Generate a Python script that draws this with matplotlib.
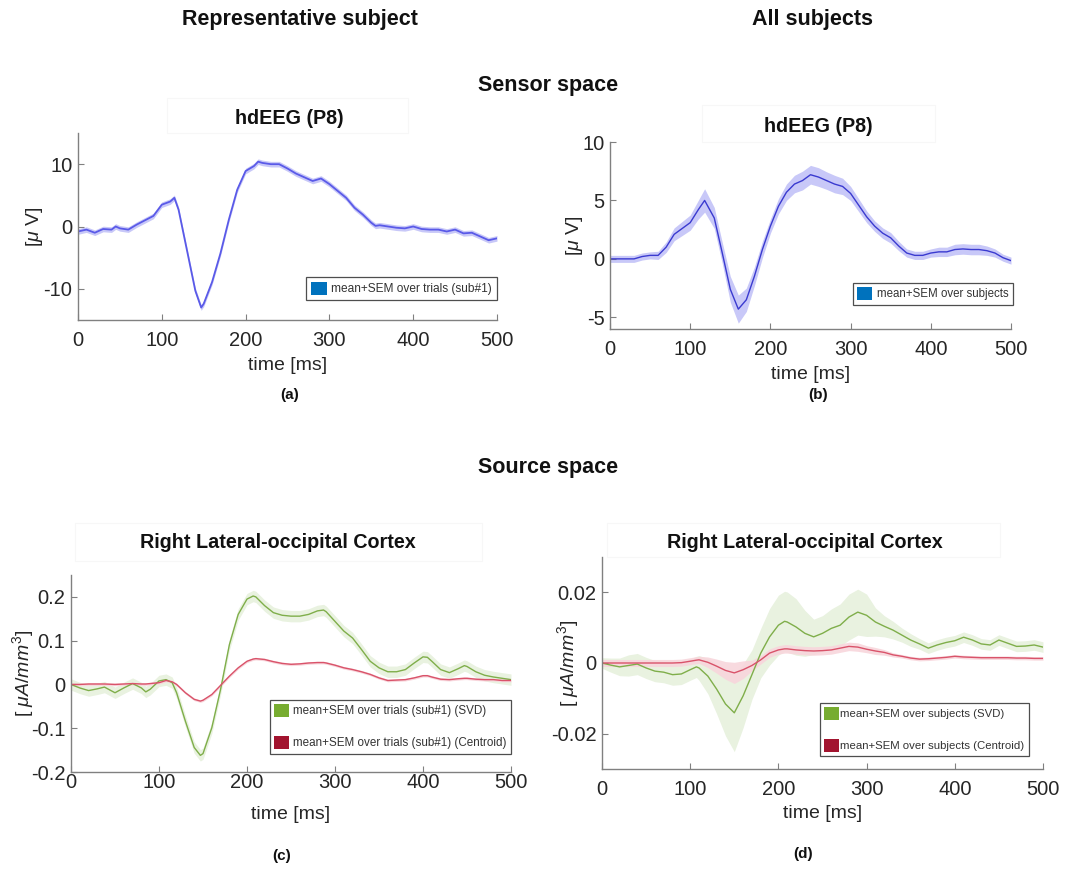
import numpy as np
import matplotlib
matplotlib.use("Agg")
import matplotlib.pyplot as plt
from matplotlib.patches import Patch, Rectangle

plt.rcParams['font.family'] = ['Liberation Sans', 'DejaVu Sans']
plt.rcParams['axes.unicode_minus'] = False
plt.rcParams['mathtext.fontset'] = 'custom'
plt.rcParams['mathtext.it'] = 'Liberation Sans:italic'
plt.rcParams['mathtext.rm'] = 'Liberation Sans'

# ---------------- data ----------------
# (a) representative subject, sensor space
t_a = [0, 10, 20, 30, 40, 45, 50, 60, 70, 80, 90, 100, 110, 115, 120, 130, 140, 147, 150,
       160, 170, 180, 190, 200, 210, 215, 220, 230, 240, 250, 260, 270, 280, 290, 300,
       310, 320, 330, 340, 350, 355, 360, 370, 380, 390, 400, 410, 420, 430, 440, 450,
       460, 470, 480, 490, 500]
mean_a = [-0.8, -0.5, -1.0, -0.4, -0.5, 0.0, -0.3, -0.5, 0.3, 1.0, 1.7, 3.5, 4.0, 4.6,
          2.7, -3.8, -10.3, -13.0, -12.4, -8.9, -4.3, 1.1, 5.9, 8.9, 9.7, 10.4, 10.2,
          10.0, 10.0, 9.3, 8.5, 7.9, 7.3, 7.7, 6.8, 5.7, 4.6, 3.0, 1.9, 0.6, 0.1, 0.2,
          0.0, -0.2, -0.3, 0.0, -0.4, -0.5, -0.5, -0.8, -0.5, -1.1, -1.0, -1.6, -2.2, -1.9]
sem_a = 0.45

# (b) all subjects, sensor space
t_b = [0, 10, 20, 30, 40, 50, 60, 70, 80, 90, 100, 110, 118, 130, 140, 150, 160, 170,
       180, 190, 200, 210, 220, 230, 240, 250, 260, 270, 280, 290, 300, 310, 320, 330,
       340, 350, 360, 370, 380, 390, 400, 410, 420, 430, 440, 450, 460, 470, 480, 490, 500]
mean_b = [0.0, 0.0, 0.0, 0.0, 0.2, 0.3, 0.3, 1.0, 2.1, 2.6, 3.1, 4.2, 5.0, 3.5, 0.5,
          -2.6, -4.3, -3.5, -1.5, 0.8, 2.8, 4.5, 5.7, 6.4, 6.7, 7.2, 7.0, 6.7, 6.4,
          6.2, 5.6, 4.6, 3.6, 2.8, 2.2, 1.8, 1.1, 0.5, 0.3, 0.3, 0.5, 0.6, 0.6, 0.8,
          0.85, 0.8, 0.8, 0.7, 0.5, 0.1, -0.15]
sem_b = [0.3, 0.3, 0.3, 0.3, 0.3, 0.3, 0.35, 0.45, 0.55, 0.6, 0.65, 0.8, 1.0, 0.9, 0.9,
         1.1, 1.2, 1.0, 0.8, 0.7, 0.6, 0.65, 0.7, 0.75, 0.8, 0.8, 0.8, 0.75, 0.75,
         0.7, 0.6, 0.55, 0.5, 0.45, 0.45, 0.45, 0.4, 0.35, 0.35, 0.35, 0.35, 0.4, 0.4,
         0.45, 0.45, 0.45, 0.45, 0.4, 0.35, 0.3, 0.3]

# (c) representative subject, source space
t_c = [0, 10, 20, 30, 38, 50, 60, 70, 80, 85, 90, 100, 108, 115, 120, 130, 140, 147, 150,
       160, 170, 180, 190, 200, 207, 210, 220, 230, 240, 250, 260, 270, 280, 287, 290,
       300, 310, 320, 330, 340, 350, 360, 370, 380, 390, 400, 405, 410, 420, 430, 440,
       447, 450, 460, 470, 480, 490, 500]
svd_c = [0.0, -0.008, -0.014, -0.010, -0.006, -0.019, -0.008, 0.002, -0.008, -0.017,
         -0.011, 0.008, 0.011, 0.004, -0.019, -0.084, -0.144, -0.162, -0.158, -0.099,
         -0.011, 0.091, 0.160, 0.195, 0.202, 0.200, 0.180, 0.164, 0.158, 0.156, 0.156,
         0.160, 0.168, 0.170, 0.166, 0.144, 0.122, 0.106, 0.080, 0.053, 0.038, 0.029,
         0.029, 0.034, 0.049, 0.063, 0.062, 0.053, 0.034, 0.027, 0.036, 0.043, 0.041,
         0.029, 0.021, 0.017, 0.014, 0.011]
cen_c = [0.0, 0.0, 0.001, 0.001, 0.001, 0.0, 0.001, 0.002, 0.001, 0.001, 0.002, 0.004,
         0.009, 0.006, 0.0, -0.019, -0.034, -0.038, -0.036, -0.023, -0.002, 0.019, 0.038,
         0.053, 0.058, 0.059, 0.057, 0.052, 0.048, 0.046, 0.047, 0.049, 0.050, 0.050,
         0.049, 0.044, 0.038, 0.034, 0.029, 0.023, 0.015, 0.009, 0.010, 0.011, 0.015,
         0.020, 0.020, 0.017, 0.012, 0.011, 0.013, 0.014, 0.014, 0.012, 0.011, 0.011,
         0.009, 0.009]
sem_svd_c = 0.013
sem_cen_c = 0.003

# (d) all subjects, source space
t_d = [0, 10, 20, 30, 40, 50, 60, 70, 80, 90, 100, 107, 110, 120, 130, 140, 150, 160,
       170, 180, 190, 200, 207, 210, 220, 230, 240, 250, 260, 270, 280, 290, 300, 310,
       320, 330, 340, 350, 360, 370, 380, 390, 400, 410, 420, 430, 440, 450, 460, 470,
       480, 490, 500]
svd_d = [0.0, -0.0006, -0.0011, -0.0007, -0.0003, -0.0014, -0.0023, -0.0026, -0.0033,
         -0.0031, -0.0019, -0.0011, -0.0014, -0.0037, -0.0074, -0.0116, -0.0141,
         -0.0093, -0.0033, 0.0028, 0.0074, 0.0107, 0.0118, 0.0116, 0.0102, 0.0084,
         0.0074, 0.0084, 0.0098, 0.0107, 0.0130, 0.0144, 0.0135, 0.0116, 0.0104, 0.0093,
         0.0079, 0.0065, 0.0054, 0.0042, 0.0051, 0.0058, 0.0063, 0.0073, 0.0065, 0.0054,
         0.0051, 0.0065, 0.0056, 0.0047, 0.0048, 0.0051, 0.0045]
sem_svd_d = [0.0015, 0.002, 0.0025, 0.003, 0.003, 0.003, 0.003, 0.003, 0.003, 0.003,
             0.003, 0.003, 0.0035, 0.005, 0.007, 0.009, 0.011, 0.009, 0.007, 0.007,
             0.008, 0.0085, 0.0085, 0.0085, 0.008, 0.0065, 0.005, 0.005, 0.0055, 0.006,
             0.0065, 0.0065, 0.006, 0.004, 0.003, 0.0025, 0.002, 0.0018, 0.0015, 0.0015,
             0.0015, 0.0015, 0.0015, 0.0015, 0.0015, 0.0015, 0.0015, 0.0015, 0.0015,
             0.0015, 0.0015, 0.0015, 0.0015]
cen_d = [0.0, 0.0, 0.0, 0.0, 0.0, 0.0, 0.0, 0.0, 0.0, 0.0001, 0.0005, 0.0008, 0.0009,
         0.0002, -0.0009, -0.0021, -0.0028, -0.0019, -0.0007, 0.0009, 0.0028, 0.0037,
         0.0040, 0.0040, 0.0037, 0.0035, 0.0034, 0.0035, 0.0037, 0.0042, 0.0047, 0.0045,
         0.0039, 0.0034, 0.0030, 0.0023, 0.0019, 0.0014, 0.0011, 0.0012, 0.0014, 0.0016,
         0.0019, 0.0017, 0.0016, 0.0015, 0.0015, 0.0015, 0.0015, 0.0014, 0.0014, 0.0013,
         0.0013]
sem_cen_d = [0.001, 0.001, 0.001, 0.001, 0.001, 0.001, 0.001, 0.001, 0.001, 0.001,
             0.001, 0.001, 0.001, 0.0015, 0.002, 0.0025, 0.003, 0.0025, 0.0015, 0.0012,
             0.0012, 0.0012, 0.0012, 0.0012, 0.0012, 0.0012, 0.0012, 0.0012, 0.0012,
             0.0012, 0.0012, 0.0012, 0.001, 0.001, 0.0008, 0.0006, 0.0005, 0.0005, 0.0005,
             0.0005, 0.0005, 0.0005, 0.0005, 0.0005, 0.0005, 0.0005, 0.0005, 0.0005,
             0.0005, 0.0005, 0.0005, 0.0005, 0.0005]

xticks = [0, 100, 200, 300, 400, 500]

# ---------------- styling ----------------
BLUE_LINE_A = '#5a5ae8'
BLUE_LINE_B = '#3a3ad0'
BLUE_FILL = '#c8c8f8'
LEG_BLUE = '#0072BD'
GREEN_LINE = '#7fae4a'
GREEN_FILL = '#e9f2e0'
LEG_GREEN = '#77AC30'
RED_LINE = '#d9536a'
RED_FILL = '#f8d6dc'
LEG_RED = '#A2142F'
SPINE = '#808080'
TICKTXT = '#262626'
W, H = 1086.0, 885.0

fig = plt.figure(figsize=(10.86, 8.85), dpi=100)


def px_axes(left, top, right, bottom):
    return fig.add_axes([left / W, 1 - bottom / H, (right - left) / W, (bottom - top) / H])


def style(ax, ylim, yticks, ylabel, xpad, xlabelpad, ylab_x):
    ax.set_xlim(0, 500)
    ax.set_ylim(*ylim)
    ax.set_xticks(xticks)
    ax.set_yticks(yticks)
    ax.set_yticklabels([('%g' % v) for v in yticks])
    for s in ['top', 'right']:
        ax.spines[s].set_visible(False)
    for s in ['left', 'bottom']:
        ax.spines[s].set_color(SPINE)
        ax.spines[s].set_linewidth(1.0)
    ax.tick_params(direction='in', length=4, color=SPINE, labelsize=14.5,
                   labelcolor=TICKTXT)
    ax.tick_params(axis='x', pad=xpad)
    ax.tick_params(axis='y', pad=4)
    ax.set_xlabel('time [ms]', fontsize=14, color=TICKTXT, labelpad=xlabelpad)
    ax.set_ylabel(ylabel, fontsize=14, color=TICKTXT)
    ax.yaxis.set_label_coords(ylab_x, 0.5)


def legend(ax, handles, labels, anchor, size, spacing=0.4, textpad=0.4):
    lg = ax.legend(handles, labels, loc='lower right', bbox_to_anchor=anchor,
                   fontsize=size, frameon=True, fancybox=False, handlelength=1.3,
                   handleheight=1.3, handletextpad=textpad, borderpad=0.4,
                   labelspacing=spacing, borderaxespad=0)
    lg.get_frame().set_edgecolor('#222222')
    lg.get_frame().set_linewidth(0.9)
    for t in lg.get_texts():
        t.set_color('#333333')
    return lg


# (a)
ax = px_axes(78, 133, 497, 320)
ta = np.array(t_a); ma = np.array(mean_a)
ax.fill_between(ta, ma - sem_a, ma + sem_a, color=BLUE_FILL, lw=0)
ax.plot(ta, ma, color=BLUE_LINE_A, lw=1.3)
style(ax, (-15, 15), [-10, 0, 10], r'[$\mu$ V]', 8, 5, -0.078)
legend(ax, [Patch(facecolor=LEG_BLUE)], ['mean+SEM over trials (sub#1)'], (1.0, 0.107), 8.6)

# (b)
ax = px_axes(610, 142, 1011, 329)
tb = np.array(t_b); mb = np.array(mean_b); sb = np.array(sem_b)
ax.fill_between(tb, mb - sb, mb + sb, color=BLUE_FILL, lw=0)
ax.plot(tb, mb, color=BLUE_LINE_B, lw=1.0)
style(ax, (-6, 10), [-5, 0, 5, 10], r'[$\mu$ V]', 8, 5, -0.062)
legend(ax, [Patch(facecolor=LEG_BLUE)], ['mean+SEM over subjects'], (1.005, 0.128), 8.3)

# (c)
ax = px_axes(71, 575, 511, 772)
tc = np.array(t_c); sc = np.array(svd_c); cc = np.array(cen_c)
ax.fill_between(tc, sc - sem_svd_c, sc + sem_svd_c, color=GREEN_FILL, lw=0)
ax.fill_between(tc, cc - sem_cen_c, cc + sem_cen_c, color=RED_FILL, lw=0)
ax.plot(tc, sc, color=GREEN_LINE, lw=1.0)
ax.plot(tc, cc, color=RED_LINE, lw=1.0)
style(ax, (-0.2, 0.25), [-0.2, -0.1, 0, 0.1, 0.2], r'[ $\mu A/mm^3$]', 1, 10, -0.080)
legend(ax, [Patch(facecolor=LEG_GREEN), Patch(facecolor=LEG_RED)],
       ['mean+SEM over trials (sub#1) (SVD)', 'mean+SEM over trials (sub#1) (Centroid)'],
       (1.0, 0.091), 8.4, spacing=1.6, textpad=0.3)

# (d)
ax = px_axes(602, 557, 1043, 769)
td = np.array(t_d); sd = np.array(svd_d); cd = np.array(cen_d)
ssd = np.array(sem_svd_d); scd = np.array(sem_cen_d)
ax.fill_between(td, sd - ssd, sd + ssd, color=GREEN_FILL, lw=0)
ax.fill_between(td, cd - scd, cd + scd, color=RED_FILL, lw=0, alpha=0.9)
ax.plot(td, sd, color=GREEN_LINE, lw=1.0)
ax.plot(td, cd, color=RED_LINE, lw=1.0)
style(ax, (-0.03, 0.03), [-0.02, 0, 0.02], r'[ $\mu A/mm^3$]', 8, 4, -0.048)
legend(ax, [Patch(facecolor=LEG_GREEN), Patch(facecolor=LEG_RED)],
       ['mean+SEM over subjects (SVD)', 'mean+SEM over subjects (Centroid)'],
       (0.968, 0.061), 8.2, spacing=1.7, textpad=0.1)

# ---------------- figure texts ----------------
def ftext(x, y, s, size, weight='bold'):
    fig.text(x / W, 1 - y / H, s, ha='center', va='center',
             fontsize=size, fontweight=weight, color='#111111')


def fbox(l, t, r, b):
    fig.add_artist(Rectangle((l / W, 1 - b / H), (r - l) / W, (b - t) / H,
                             transform=fig.transFigure, fill=False,
                             edgecolor='#f7f7f7', lw=0.8))


fbox(167, 98, 408, 133)
fbox(702, 105, 935, 142)
fbox(75, 523, 482, 561)
fbox(607, 523, 1000, 557)

ftext(300, 19, 'Representative subject', 15.5)
ftext(813, 19, 'All subjects', 15.5)
ftext(548, 85, 'Sensor space', 15.5)
ftext(548, 467, 'Source space', 15.5)
ftext(289, 118, 'hdEEG (P8)', 14.2)
ftext(818, 126, 'hdEEG (P8)', 14.2)
ftext(278, 543, 'Right Lateral-occipital Cortex', 14.2)
ftext(805, 543, 'Right Lateral-occipital Cortex', 14.2)
ftext(290, 395, '(a)', 11)
ftext(818, 395, '(b)', 11)
ftext(282, 856, '(c)', 11)
ftext(803, 854, '(d)', 11)

fig.savefig('out.png', dpi=100, facecolor='white')
